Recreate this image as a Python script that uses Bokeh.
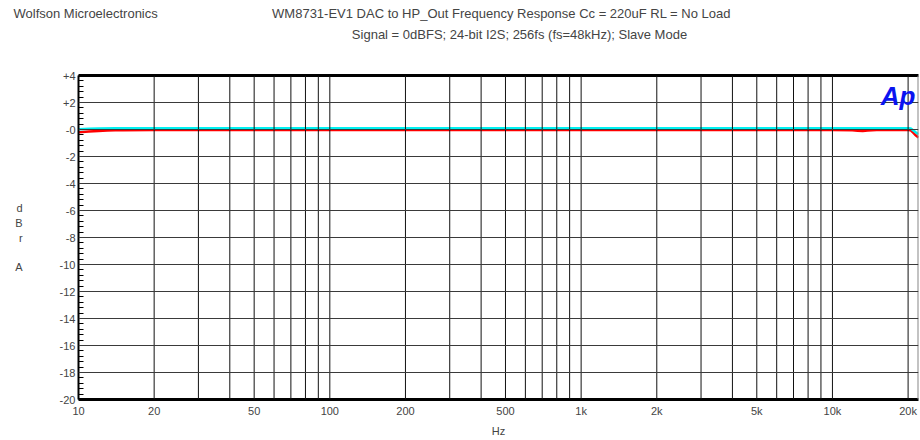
from bokeh.plotting import figure
from bokeh.models import FixedTicker, Label, LinearAxis, Span, Range1d
from bokeh.layouts import column
from bokeh.embed import file_html
from bokeh.resources import INLINE

# ---- data ----
freq_red = [10, 11, 12, 13, 14, 15, 20, 50, 100, 1000, 10000, 12000, 12600, 13200, 13800, 15000, 20000, 20500, 21000, 21500, 22000]
db_red = [-0.20, -0.15, -0.11, -0.08, -0.06, -0.05, -0.04, -0.04, -0.04, -0.04, -0.04, -0.06, -0.10, -0.12, -0.08, -0.04, -0.04, -0.06, -0.25, -0.45, -0.60]
freq_cyan = [10, 11, 12, 14, 16, 20, 100, 1000, 10000, 20000, 20500, 21000, 21500, 22000]
db_cyan = [0.02, 0.05, 0.07, 0.09, 0.10, 0.10, 0.10, 0.10, 0.10, 0.10, 0.07, -0.08, -0.22, -0.35]

x_grid = [10, 20, 30, 40, 50, 60, 70, 80, 90, 100, 200, 300, 400, 500, 600, 700, 800, 900,
          1000, 2000, 3000, 4000, 5000, 6000, 7000, 8000, 9000, 10000, 20000]
x_labels = {10: "10", 20: "20", 50: "50", 100: "100", 200: "200", 500: "500",
            1000: "1k", 2000: "2k", 5000: "5k", 10000: "10k", 20000: "20k"}
y_ticks = [-20, -18, -16, -14, -12, -10, -8, -6, -4, -2, 0, 2, 4]
y_labels = {4: "+4", 2: "+2", 0: "-0"}

company = "Wolfson Microelectronics"
title1 = "WM8731-EV1 DAC to HP_Out Frequency Response Cc = 220uF RL = No Load"
title2 = "Signal = 0dBFS; 24-bit I2S; 256fs (fs=48kHz); Slave Mode"

FONT = "Liberation Sans Narrow, Arial Narrow, Liberation Sans, Arial, sans-serif"

W = 920
HH = 60             # header height
H = 440 - HH        # main figure height
FL, FR, FT, FB = 78, 918, 75, 399   # frame edges in page pixels

# ---- header (texts above the chart) ----
hdr = figure(width=W, height=HH, output_backend="svg", toolbar_location=None,
             x_range=Range1d(0, W), y_range=Range1d(HH, 0),
             min_border_left=0, min_border_right=0, min_border_top=0, min_border_bottom=0,
             x_axis_location=None, y_axis_location=None)
hdr.outline_line_color = None
hdr.xgrid.visible = False
hdr.ygrid.visible = False
hdr.frame_align = False


def hlab(px, py, t, align):
    hdr.add_layout(Label(x=px, y=py, text=t, text_font=FONT, text_font_size="13px",
                         text_align=align, text_baseline="middle"))


hlab(13, 13, company, "left")
hlab(501, 13, title1, "center")
hlab(519, 34, title2, "center")

# ---- main chart ----
p = figure(width=W, height=H, x_axis_type="log", output_backend="svg", toolbar_location=None,
           x_range=Range1d(10, 22000), y_range=Range1d(-20, 4),
           min_border_left=FL, min_border_right=W - FR, min_border_top=FT - HH,
           min_border_bottom=440 - FB,
           x_axis_location=None, y_axis_location=None)
p.outline_line_color = None
p.background_fill_color = "white"
p.border_fill_color = "white"
p.frame_align = False

# bottom axis
xb = LinearAxis(ticker=FixedTicker(ticks=x_grid, minor_ticks=[]))
xb.major_label_overrides = {k: x_labels.get(k, "") for k in x_grid}
xb.major_tick_in = 0
xb.major_tick_out = 0
xb.minor_tick_in = 0
xb.minor_tick_out = 0
xb.axis_line_width = 3
xb.axis_line_color = "black"
xb.major_label_text_font = FONT
xb.major_label_text_font_size = "11px"
xb.major_label_standoff = 5
xb.axis_label = "Hz"
xb.axis_label_text_font = FONT
xb.axis_label_text_font_size = "11px"
xb.axis_label_text_font_style = "normal"
xb.axis_label_standoff = 5
p.add_layout(xb, "below")

# top border
xt = LinearAxis(ticker=FixedTicker(ticks=[]), major_label_text_font_size="0px")
xt.axis_line_width = 3
xt.axis_line_color = "black"
xt.major_tick_in = 0
xt.major_tick_out = 0
xt.minor_tick_in = 0
xt.minor_tick_out = 0
p.add_layout(xt, "above")

# left axis
yl = LinearAxis(ticker=FixedTicker(ticks=y_ticks,
                                   minor_ticks=[round(-20 + 0.4 * i, 2) for i in range(61)]))
yl.major_label_overrides = {k: y_labels.get(k, str(k)) for k in y_ticks}
yl.major_tick_in = 0
yl.major_tick_out = 0
yl.minor_tick_in = 5
yl.minor_tick_out = 0
yl.minor_tick_line_color = "black"
yl.axis_line_width = 2
yl.axis_line_color = "black"
yl.major_label_text_font = FONT
yl.major_label_text_font_size = "11px"
yl.major_label_standoff = 3
yl.axis_label = "d\nB\nr\n\nA"
yl.axis_label_orientation = "horizontal"
yl.axis_label_text_font = "Liberation Sans, Arial, sans-serif"
yl.axis_label_text_font_size = "11px"
yl.axis_label_text_font_style = "normal"
yl.axis_label_text_line_height = 1.22
yl.axis_label_standoff = 34
p.add_layout(yl, "left")

# right border
p.add_layout(Span(location=22000, dimension="height", line_color="#888888", line_width=2))

p.xgrid.visible = False
p.ygrid.visible = False
for xv in x_grid[1:]:
    p.add_layout(Span(location=xv, dimension="height", line_color="#111111", line_width=1))
for yv in y_ticks[1:-1]:
    p.add_layout(Span(location=yv, dimension="width", line_color="#3a3a3a", line_width=1))

p.line(freq_red, db_red, line_color="#ff0000", line_width=2.5)
p.line(freq_cyan, db_cyan, line_color="#00f0f0", line_width=2.5)

p.add_layout(Label(x=915 - FL, y=FB - 95, x_units="screen", y_units="screen", text="Ap",
                   text_font="Liberation Sans, Arial, sans-serif", text_font_size="26px",
                   text_font_style="bold italic", text_color="#0a14f0",
                   text_align="right", text_baseline="alphabetic"))

open("out.html", "w").write(file_html(column(hdr, p, spacing=0), INLINE))
